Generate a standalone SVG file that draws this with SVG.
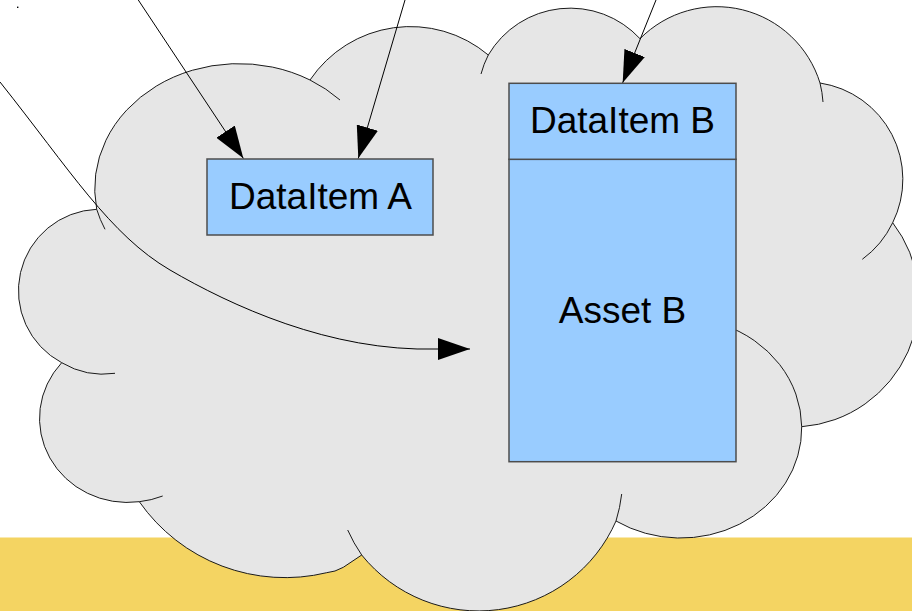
<svg xmlns="http://www.w3.org/2000/svg" width="912" height="611" viewBox="0 0 912 611">
  <style>
    .cloud { fill: #e6e6e6; stroke: #1a1a1a; stroke-width: 1; }
    .tail { fill: none; stroke: #1a1a1a; stroke-width: 1; }
    .box { fill: #99ccff; stroke: #4d4d4d; stroke-width: 1.5; }
    .label { font-family: "Liberation Sans", Arial, sans-serif; font-size: 37px; fill: #000; text-anchor: middle; }
    .conn { fill: none; stroke: #000; stroke-width: 1; marker-end: url(#arrow); }
  </style>
  <defs>
    <marker id="arrow" viewBox="0 0 32 22" refX="32" refY="11" markerWidth="32" markerHeight="22" markerUnits="userSpaceOnUse" orient="auto">
      <path d="M0,0 L32,11 L0,22 Z" fill="#000"/>
    </marker>
  </defs>

  <rect id="ground" x="0" y="537.5" width="912" height="73.5" fill="#f4d462"/>

  <g id="cloud">
    <path class="cloud" d="M96.7,209.3 A144,125 0 0 1 310,80 A121,121 0 0 1 488.3,55 A95,95 0 0 1 640,38.7 A108,108 0 0 1 820,83 A97.5,97.5 0 0 1 892.7,222.7 A127,127 0 0 1 801.7,426.7 A121,110 0 0 1 616,521 A150,150 0 0 1 361.7,555 L343.3,567.3 Q335,572 326.7,572.7 A178,178 0 0 1 139.3,501.7 A88,84 0 0 1 61.7,362.7 A81.5,81.5 0 0 1 96.7,209.3 Z"/>
    <path class="tail" d="M105,229.3 A144,125 0 0 1 96.7,209.3"/>
    <path class="tail" d="M310,80 A144,125 0 0 1 340,100"/>
    <path class="tail" d="M481,74 A95,95 0 0 1 488.3,55"/>
    <path class="tail" d="M820,83 A108,108 0 0 1 823,102"/>
    <path class="tail" d="M892.7,222.7 A97.5,97.5 0 0 1 862.3,259.3"/>
    <path class="tail" d="M722.4,324.6 A121,110 0 0 1 801.7,426.7"/>
    <path class="tail" d="M621.7,494 A150,150 0 0 1 616,521"/>
    <path class="tail" d="M361.7,555 A150,150 0 0 1 347.7,530"/>
    <path class="tail" d="M162.7,496 A88,84 0 0 1 139.3,501.7"/>
    <path class="tail" d="M115,373.3 A81.5,81.5 0 0 1 61.7,362.7"/>
  </g>

  <g id="dataItemA">
    <rect class="box" x="207" y="159" width="226" height="76"/>
    <text class="label" x="320.5" y="209.3">DataItem A</text>
  </g>

  <g id="assetB">
    <rect class="box" x="509" y="159.3" width="227" height="302.4"/>
    <text class="label" x="622.5" y="323.3">Asset B</text>
  </g>

  <g id="dataItemB">
    <rect class="box" x="509" y="83.3" width="227" height="76"/>
    <text class="label" x="622.5" y="133.3">DataItem B</text>
  </g>

  <g id="connectors">
    <path class="conn" d="M138.3,0 L243.3,158.3"/>
    <path class="conn" d="M405,0 L358.3,158.3"/>
    <path class="conn" d="M656,0 L622.7,82.7"/>
    <path class="conn" d="M0,82 C70,170 110,235 170,270 S330,352 437,349 L470,349"/>
    <rect x="17" y="6.6" width="1.4" height="1.4" fill="#000"/>
  </g>
</svg>
